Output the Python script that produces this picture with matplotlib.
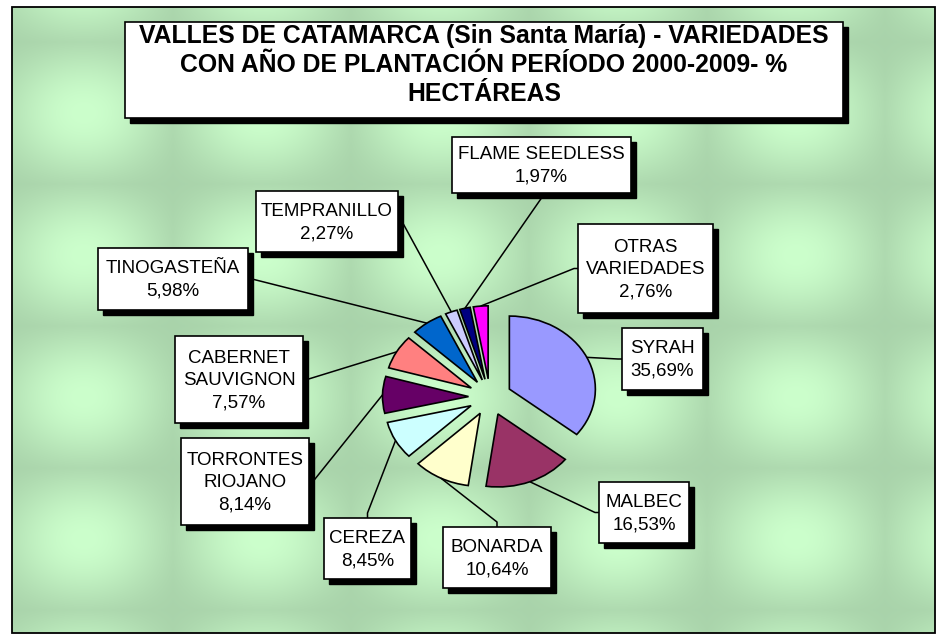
import numpy as np
import matplotlib
matplotlib.use("Agg")
import matplotlib.pyplot as plt
from matplotlib.patches import Rectangle

# ---------------- data ----------------
varieties = ["SYRAH", "MALBEC", "BONARDA", "CEREZA", "TORRONTES\nRIOJANO",
             "CABERNET\nSAUVIGNON", "TINOGASTEÑA", "TEMPRANILLO",
             "FLAME SEEDLESS", "OTRAS\nVARIEDADES"]
shares = [35.69, 16.53, 10.64, 8.45, 8.14, 7.57, 5.98, 2.27, 1.97, 2.76]
colors = ["#9999FF", "#993366", "#FFFFCC", "#CCFFFF", "#660066",
          "#FF8080", "#0066CC", "#CCCCFF", "#000080", "#FF00FF"]
title = ("VALLES DE CATAMARCA (Sin Santa María) - VARIEDADES\n"
         "CON AÑO DE PLANTACIÓN PERÍODO 2000-2009- %\nHECTÁREAS")

# ---------------- layout (pixels) ----------------
W, H = 945, 637
frame = (12, 7, 935, 633)
pie_center = (490, 397)
rx, ry = 86, 73
label_boxes = [
    (622, 328, 703, 390, "left"),    # SYRAH
    (599, 482, 689, 543, "left"),    # MALBEC
    (443, 527, 551, 588, "top"),     # BONARDA
    (324, 518, 411, 579, "top"),     # CEREZA
    (181, 438, 309, 525, "right"),   # TORRONTES
    (175, 336, 303, 423, "right"),   # CABERNET
    (98, 248, 248, 310, "right"),    # TINOGASTEÑA
    (256, 191, 398, 252, "right"),   # TEMPRANILLO
    (452, 137, 631, 193, "bottom"),  # FLAME SEEDLESS
    (578, 224, 713, 313, "left"),    # OTRAS
]
title_box = (125, 22, 843, 118)
shadow = 5
FONT = "Liberation Sans"

fig = plt.figure(figsize=(W / 100, H / 100), dpi=100)
fig.patch.set_facecolor("white")

# background
bg = fig.add_axes([0, 0, 1, 1], zorder=0)
bg.set_xlim(0, W); bg.set_ylim(H, 0); bg.axis("off")
fx0, fy0, fx1, fy1 = frame
xx, yy = np.meshgrid(np.arange(fx0, fx1) + 0.5, np.arange(fy0, fy1) + 0.5)
cx = 0.5 * (1 + np.cos(2 * np.pi * (xx - 84) / 178))
cy = 0.5 * (1 + np.cos(2 * np.pi * (yy - 113) / 142))
t = np.sqrt(cx * cy) * 0.7 + 0.3 * (cx + cy) / 2
dark = np.array([0.665, 0.830, 0.670])
light = np.array([0.800, 1.000, 0.800])
img = dark[None, None, :] + (light - dark)[None, None, :] * t[..., None]
bg.imshow(img, extent=[fx0, fx1, fy1, fy0], origin="upper", aspect="auto",
          interpolation="bilinear")
bg.add_patch(Rectangle((fx0, fy0), fx1 - fx0, fy1 - fy0, fill=False,
                       edgecolor="black", linewidth=1.3))

# pie
pl = pie_center[0] - 2 * rx
pt = pie_center[1] - 2 * ry
pax = fig.add_axes([pl / W, (H - pt - 4 * ry) / H, 4 * rx / W, 4 * ry / H], zorder=1)
wedges, _ = pax.pie(shares, colors=colors, startangle=90, counterclock=False,
                    explode=[0.25] * len(shares),
                    wedgeprops=dict(edgecolor="black", linewidth=1.2))
pax.set_aspect("auto")
pax.set_xlim(-2, 2); pax.set_ylim(-2, 2)
pax.axis("off")

# annotations
ann = fig.add_axes([0, 0, 1, 1], zorder=2)
ann.set_xlim(0, W); ann.set_ylim(H, 0); ann.axis("off")
ann.patch.set_alpha(0)

def box(ax, x0, y0, x1, y1, z=3):
    ax.add_patch(Rectangle((x0 + shadow, y0 + shadow), x1 - x0, y1 - y0,
                           facecolor="black", edgecolor="black", zorder=z))
    ax.add_patch(Rectangle((x0, y0), x1 - x0, y1 - y0, facecolor="white",
                           edgecolor="black", linewidth=1.2, zorder=z + 0.5))

inv = ann.transData.inverted()
for w, name, val, (x0, y0, x1, y1, side) in zip(wedges, varieties, shares, label_boxes):
    th = np.deg2rad((w.theta1 + w.theta2) / 2)
    cxw, cyw = w.center
    p = (cxw + w.r * np.cos(th), cyw + w.r * np.sin(th))
    ax_, ay_ = inv.transform(pax.transData.transform(p))
    if side == "left":
        at = (x0, (y0 + y1) / 2); el = (x0 - 4, at[1])
    elif side == "right":
        at = (x1, (y0 + y1) / 2); el = (x1 + 4, at[1])
    elif side == "top":
        at = ((x0 + x1) / 2, y0); el = (at[0], y0 - 5)
    else:
        at = ((x0 + x1) / 2, y1); el = (at[0], y1 + 5)
    ann.plot([ax_, el[0], at[0]], [ay_, el[1], at[1]], color="black",
             linewidth=1.1, zorder=2, solid_capstyle="butt")
    box(ann, x0, y0, x1, y1)
    txt = f"{name}\n{val:.2f}%".replace(".", ",")
    ann.text((x0 + x1) / 2, (y0 + y1) / 2 + 1, txt, ha="center", va="center",
             fontsize=13.5, family=FONT, linespacing=1.42, zorder=5)

# title
tx0, ty0, tx1, ty1 = title_box
box(ann, tx0, ty0, tx1, ty1)
ann.text((tx0 + tx1) / 2, (ty0 + ty1) / 2 - 5, title, ha="center", va="center",
         fontsize=17.8, fontweight="bold", family=FONT, linespacing=1.28, zorder=5)

fig.savefig("out.png", dpi=100, facecolor="white")
